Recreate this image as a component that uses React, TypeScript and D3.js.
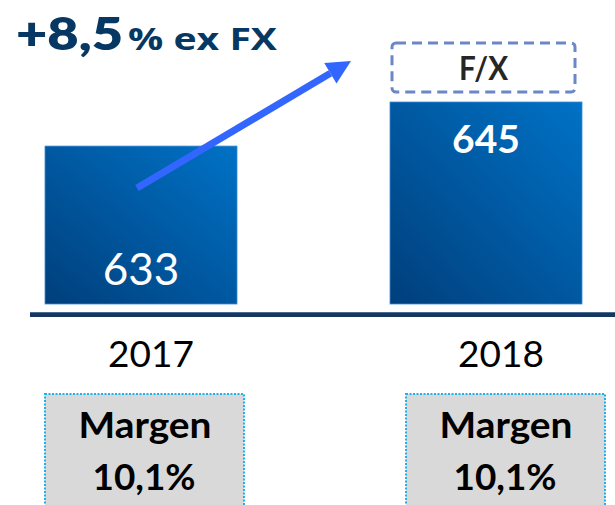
import React from "react";
import * as d3 from "d3";

const years = ["2017", "2018"];
const values = [633, 645];
const margins = ["10,1%", "10,1%"];
const headline = "+8,5";
const headlineSuffix = "% ex FX";
const fxLabel = "F/X";

const W = 615;
const H = 505;
const FONT = "Lato, 'Open Sans', sans-serif";
const WIDE = "'Open Sans', Lato, sans-serif";

export default function App() {
  const x = d3.scaleOrdinal<string, number>().domain(years).range([141, 486]);
  const barW = 192;
  const y = d3.scaleLinear().domain([590, 645]).range([304, 102]);
  const labelX = d3.scaleOrdinal<string, number>().domain(years).range([151, 501]);
  const boxX = d3.scaleOrdinal<string, number>().domain(years).range([144.5, 505.5]);
  const boxW = 199;

  const arrowStart = { x: 137, y: 188 };
  const arrowEnd = { x: 351, y: 61 };
  const ang = Math.atan2(arrowEnd.y - arrowStart.y, arrowEnd.x - arrowStart.x);
  const headLen = 24;
  const headHalf = 12;
  const bx = arrowEnd.x - headLen * Math.cos(ang);
  const by = arrowEnd.y - headLen * Math.sin(ang);
  const px = -Math.sin(ang);
  const py = Math.cos(ang);
  const headPts = [
    [arrowEnd.x, arrowEnd.y],
    [bx + headHalf * px, by + headHalf * py],
    [bx - headHalf * px, by - headHalf * py],
  ];

  return (
    <svg width={W} height={H} style={{ position: "absolute", left: 0, top: 0, background: "#fff" }}>
      <defs>
        <linearGradient id="barGrad" x1="0" y1="1" x2="1" y2="0">
          <stop offset="0%" stopColor="#003f7c" />
          <stop offset="100%" stopColor="#0072c6" />
        </linearGradient>
      </defs>

      {/* headline */}
      <text x={16} y={50} fill="#073763" fontFamily={FONT} fontWeight={800} fontSize={45}
        textLength={107} lengthAdjust="spacingAndGlyphs">
        {headline}
      </text>
      <text x={128} y={50} fill="#073763" fontFamily={WIDE} fontWeight={700} fontSize={31}
        textLength={149} lengthAdjust="spacingAndGlyphs">
        {headlineSuffix}
      </text>

      {/* bars */}
      {years.map((yr, i) => (
        <rect
          key={yr}
          x={x(yr) - barW / 2}
          y={y(values[i])}
          width={barW}
          height={y.range()[0] - y(values[i])}
          fill="url(#barGrad)"
          stroke="#3d8ad6"
          strokeWidth={0.8}
        />
      ))}
      <text x={x(years[0])} y={285} textAnchor="middle" fill="#fff" fontFamily={FONT} fontSize={44}>
        {values[0]}
      </text>
      <text x={x(years[1])} y={153} textAnchor="middle" fill="#fff" fontFamily={FONT} fontWeight={700} fontSize={39}>
        {values[1]}
      </text>

      {/* F/X box */}
      <rect x={392} y={43} width={183} height={49} rx={4} fill="none" stroke="#6a87c6" strokeWidth={3} strokeDasharray="10 6" />
      <text x={459} y={80} fill="#262626" fontFamily={FONT} fontWeight={700} fontSize={32}
        textLength={49} lengthAdjust="spacingAndGlyphs">
        {fxLabel}
      </text>

      {/* arrow */}
      <line x1={arrowStart.x} y1={arrowStart.y} x2={bx} y2={by} stroke="#3366ff" strokeWidth={7} />
      <polygon points={headPts.map((p) => p.join(",")).join(" ")} fill="#3366ff" />

      {/* axis */}
      <rect x={30} y={312} width={585} height={5} fill="#17375e" />
      <rect x={30} y={312} width={585} height={1} fill="#4a6a92" />

      {/* year labels */}
      {years.map((yr) => (
        <text key={yr} x={labelX(yr)} y={367} textAnchor="middle" fill="#000" fontFamily={FONT} fontSize={37}>
          {yr}
        </text>
      ))}

      {/* margin boxes */}
      {years.map((yr, i) => (
        <g key={"m" + yr}>
          <rect x={boxX(yr) - boxW / 2} y={394} width={boxW} height={120} fill="#d9d9d9" />
          <rect
            x={boxX(yr) - boxW / 2}
            y={394}
            width={boxW}
            height={120}
            fill="none"
            stroke="#1fb0f0"
            strokeWidth={2}
            strokeDasharray="2 1.5"
          />
          <text x={boxX(yr) - 66} y={438} fill="#000" fontFamily={FONT} fontWeight={700} fontSize={36}
            textLength={133} lengthAdjust="spacingAndGlyphs">
            Margen
          </text>
          <text x={boxX(yr) - 52} y={490} fill="#000" fontFamily={FONT} fontWeight={700} fontSize={36}
            textLength={103} lengthAdjust="spacingAndGlyphs">
            {margins[i]}
          </text>
        </g>
      ))}
    </svg>
  );
}
